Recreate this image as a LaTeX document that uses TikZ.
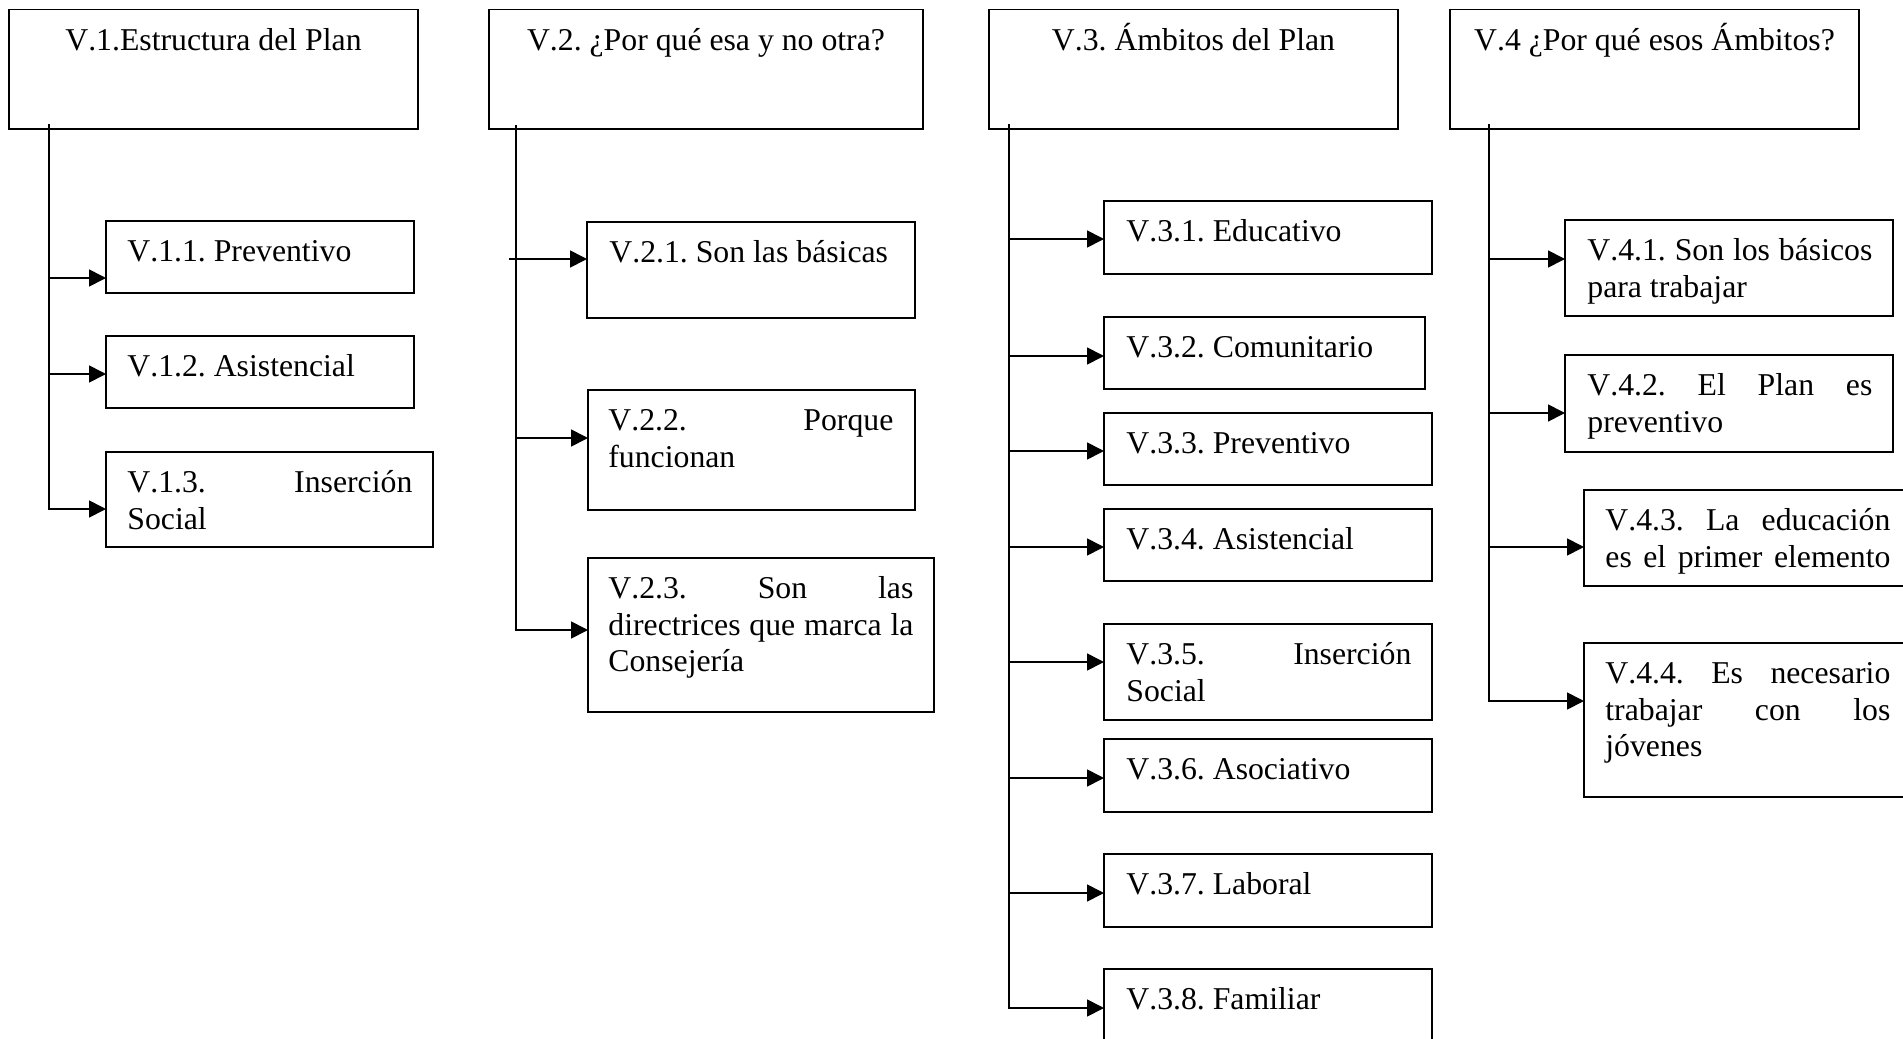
\documentclass[tikz,border=0pt]{standalone}
\usepackage{fontspec}
\setmainfont{Liberation Serif}[Kerning=Off]
\usetikzlibrary{arrows.meta}
\frenchspacing
\newcommand\planfont{\fontsize{15.875pt}{18.35pt}\selectfont}
\tikzset{
  planbox/.style 2 args={draw=black, line width=0.85pt, rectangle, inner sep=0pt, outer sep=0pt,
    anchor=north west, minimum width=#1*0.5pt, minimum height=#2*0.5pt},
  headtext/.style={anchor=base, inner sep=0pt, font=\planfont},
  itemtext/.style={anchor=base west, inner sep=0pt, align=justify, text width=#1, font=\planfont},
  itemtext/.default=142.5pt,
  linkarrow/.style={draw=black, line width=0.85pt, -{Triangle[length=8.5pt,width=8.5pt]}},
}
\begin{document}
\begin{tikzpicture}[x=0.5pt, y=-0.5pt]
\useasboundingbox (0,0) rectangle (1903,1039);
\clip (0,0) rectangle (1903,1039);
\fill[white] (0,0) rectangle (1903,1039);

% ---- headers ----
\node[planbox={409}{119.5}] (h1) at (9,9.5) {};
\node[planbox={434}{119.5}] (h2) at (489,9.5) {};
\node[planbox={409}{119.5}] (h3) at (989,9.5) {};
\node[planbox={409}{119.5}] (h4) at (1450,9.5) {};
\node[headtext] (th1) at ([yshift=-20.25pt]h1.north) {V.1.Estructura del Plan};
\node[headtext] (th2) at ([yshift=-20.25pt]h2.north) {V.2. ¿Por qué esa y no otra?};
\node[headtext] (th3) at ([yshift=-20.25pt]h3.north) {V.3. Ámbitos del Plan};
\node[headtext] (th4) at ([yshift=-20.25pt]h4.north) {V.4 ¿Por qué esos Ámbitos?};

% ---- column 1 ----
\node[planbox={308}{72}] (v11) at (106,221) {};
\node[planbox={308}{72}] (v12) at (106,336) {};
\node[planbox={327}{95}] (v13) at (106,452) {};
\node[itemtext] (t11) at ([xshift=10.5pt,yshift=-20.25pt]v11.north west) {V.1.1. Preventivo};
\node[itemtext] (t12) at ([xshift=10.5pt,yshift=-20.25pt]v12.north west) {V.1.2. Asistencial};
\node[itemtext] (t13) at ([xshift=10.5pt,yshift=-20.25pt]v13.north west) {V.1.3.\hfill Inserción\\Social};

% ---- column 2 ----
\node[planbox={328}{96}] (v21) at (587,222) {};
\node[planbox={327}{120}] (v22) at (588,390) {};
\node[planbox={346}{154}] (v23) at (588,558) {};
\node[itemtext] (t21) at ([xshift=11pt,yshift=-20.25pt]v21.north west) {V.2.1. Son las básicas};
\node[itemtext] (t22) at ([xshift=10pt,yshift=-20.25pt]v22.north west) {V.2.2.\hfill Porque\\funcionan};
\node[itemtext=152.5pt] (t23) at ([xshift=10pt,yshift=-20.25pt]v23.north west)
  {V.2.3.\hfill Son\hfill las\\directrices\hfill que\hfill marca\hfill la\\Consejería};

% ---- column 3 ----
\node[planbox={328}{73}] (v31) at (1104,201) {};
\node[planbox={321}{72}] (v32) at (1104,317) {};
\node[planbox={328}{72}] (v33) at (1104,413) {};
\node[planbox={328}{72}] (v34) at (1104,509) {};
\node[planbox={328}{96}] (v35) at (1104,624) {};
\node[planbox={328}{73}] (v36) at (1104,739) {};
\node[planbox={328}{73}] (v37) at (1104,854) {};
\node[planbox={328}{73}] (v38) at (1104,969) {};
\node[itemtext] (t31) at ([xshift=11pt,yshift=-20.25pt]v31.north west) {V.3.1. Educativo};
\node[itemtext] (t32) at ([xshift=11pt,yshift=-20.25pt]v32.north west) {V.3.2. Comunitario};
\node[itemtext] (t33) at ([xshift=11pt,yshift=-20.25pt]v33.north west) {V.3.3. Preventivo};
\node[itemtext] (t34) at ([xshift=11pt,yshift=-20.25pt]v34.north west) {V.3.4. Asistencial};
\node[itemtext] (t35) at ([xshift=11pt,yshift=-20.25pt]v35.north west) {V.3.5.\hfill Inserción\\Social};
\node[itemtext] (t36) at ([xshift=11pt,yshift=-20.25pt]v36.north west) {V.3.6. Asociativo};
\node[itemtext] (t37) at ([xshift=11pt,yshift=-20.25pt]v37.north west) {V.3.7. Laboral};
\node[itemtext] (t38) at ([xshift=11pt,yshift=-20.25pt]v38.north west) {V.3.8. Familiar};

% ---- column 4 ----
\node[planbox={328}{96}] (v41) at (1565,220) {};
\node[planbox={328}{97}] (v42) at (1565,355) {};
\node[planbox={327}{96}] (v43) at (1584,490) {};
\node[planbox={327}{154}] (v44) at (1584,643) {};
\node[itemtext] (t41) at ([xshift=11pt,yshift=-20.25pt]v41.north west) {V.4.1.\hfill Son\hfill los\hfill básicos\\para trabajar};
\node[itemtext] (t42) at ([xshift=11pt,yshift=-20.25pt]v42.north west) {V.4.2.\hfill El\hfill Plan\hfill es\\preventivo};
\node[itemtext] (t43) at ([xshift=10.5pt,yshift=-20.25pt]v43.north west) {V.4.3.\hfill La\hfill educación\\es\hfill el\hfill primer\hfill elemento};
\node[itemtext] (t44) at ([xshift=10.5pt,yshift=-20.25pt]v44.north west) {V.4.4.\hfill Es\hfill necesario\\trabajar\hfill con\hfill los\\jóvenes};

% ---- trunk starts below each header ----
\path (h1.south west) ++(40,-5) coordinate (s1);
\path (h2.south west) ++(27,-4) coordinate (s2);
\path (h3.south west) ++(20,-5) coordinate (s3);
\path (h4.south west) ++(39,-5) coordinate (s4);

% ---- arrow entry points on the boxes ----
\path (v11.north west) ++(0,57) coordinate (e11);
\path (v12.north west) ++(0,38) coordinate (e12);
\path (v13.north west) ++(0,57) coordinate (e13);
\path (v21.north west) ++(0,37) coordinate (e21);
\path (v22.north west) ++(0,48) coordinate (e22);
\path (v23.north west) ++(0,72) coordinate (e23);
\path (v31.north west) ++(0,38) coordinate (e31);
\path (v32.north west) ++(0,39) coordinate (e32);
\path (v33.north west) ++(0,38) coordinate (e33);
\path (v34.north west) ++(0,38) coordinate (e34);
\path (v35.north west) ++(0,38) coordinate (e35);
\path (v36.north west) ++(0,39) coordinate (e36);
\path (v37.north west) ++(0,39) coordinate (e37);
\path (v38.north west) ++(0,39) coordinate (e38);
\path (v41.north west) ++(0,39) coordinate (e41);
\path (v42.north west) ++(0,58) coordinate (e42);
\path (v43.north west) ++(0,57) coordinate (e43);
\path (v44.north west) ++(0,58) coordinate (e44);

% ---- connectors ----
\draw[linkarrow] (s1) |- (e13);
\draw[linkarrow] (s1 |- e11) -- (e11);
\draw[linkarrow] (s1 |- e12) -- (e12);

\draw[linkarrow] (s2) |- (e23);
\path (s2 |- e21) ++(-7,0) coordinate (f21);
\draw[linkarrow] (f21) -- (e21);
\draw[linkarrow] (s2 |- e22) -- (e22);

\draw[linkarrow] (s3) |- (e38);
\foreach \k in {31,32,33,34,35,36,37}
  \draw[linkarrow] (s3 |- e\k) -- (e\k);

\draw[linkarrow] (s4) |- (e44);
\foreach \k in {41,42,43}
  \draw[linkarrow] (s4 |- e\k) -- (e\k);
\end{tikzpicture}
\end{document}
